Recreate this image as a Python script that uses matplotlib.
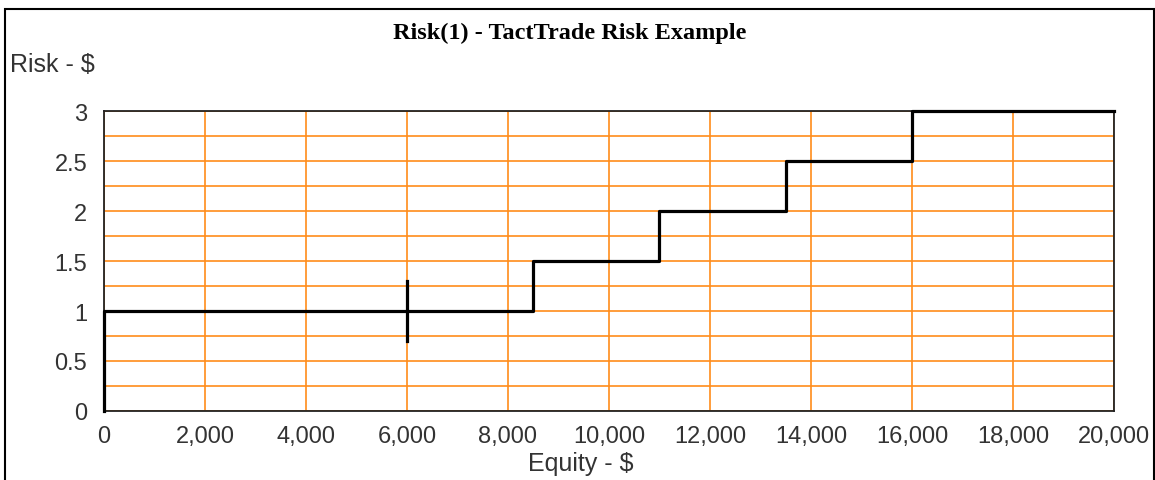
import matplotlib
matplotlib.use("Agg")
import matplotlib.pyplot as plt
from matplotlib.patches import Rectangle
from matplotlib.ticker import MultipleLocator, FuncFormatter

# step breakpoints of the risk curve
equity = [0, 0, 8500, 11000, 13500, 16000, 20000]
risk = [0, 1, 1.5, 2, 2.5, 3, 3]

# marker on the curve
marker_x = [6000, 6000]
marker_y = [0.7, 1.3]

title = "Risk(1) - TactTrade Risk Example"
xlabel = "Equity - $"
ylabel = "Risk - $"

orange = "#ff8c1a"

fig = plt.figure(figsize=(11.55, 4.81), dpi=100)
ax = fig.add_axes([0.090, 0.1435, 0.8745, 0.6235])

# outer frame round the whole chart
fig.patches.append(Rectangle((0.0043, -0.01), 0.9948, 0.989, transform=fig.transFigure,
                             fill=False, edgecolor="black", linewidth=1.5))

ax.step(equity, risk, where="post", color="black", linewidth=2.3, clip_on=False, zorder=3)
ax.plot(marker_x, marker_y, color="black", linewidth=2.3, zorder=3)

ax.set_xlim(0, 20000)
ax.set_ylim(0, 3)

ax.xaxis.set_major_locator(MultipleLocator(2000))
ax.yaxis.set_major_locator(MultipleLocator(0.5))
ax.yaxis.set_minor_locator(MultipleLocator(0.25))
ax.xaxis.set_major_formatter(FuncFormatter(lambda v, p: f"{int(v):,}"))
ax.yaxis.set_major_formatter(FuncFormatter(lambda v, p: f"{v:g}"))

ax.grid(which="major", color=orange, linewidth=1.2)
ax.grid(which="minor", axis="y", color=orange, linewidth=1.2)
ax.set_axisbelow(True)

ax.tick_params(which="both", length=0, labelsize=17)
ax.tick_params(axis="x", pad=10)
ax.tick_params(axis="y", pad=12)
for lab in ax.get_xticklabels() + ax.get_yticklabels():
    lab.set_fontfamily("Liberation Sans")
    lab.set_color("#333333")

for s in ax.spines.values():
    s.set_linewidth(1.3)
    s.set_color("#222222")

fig.text(0.4935, 0.931, title, ha="center", va="center", fontsize=17.5,
         fontweight="bold", family="Liberation Serif")
fig.text(0.009, 0.865, ylabel, ha="left", va="center", fontsize=18,
         family="Liberation Sans", color="#333333")
fig.text(0.503, 0.035, xlabel, ha="center", va="center", fontsize=18,
         family="Liberation Sans", color="#333333")

fig.savefig("out.png", dpi=100)
